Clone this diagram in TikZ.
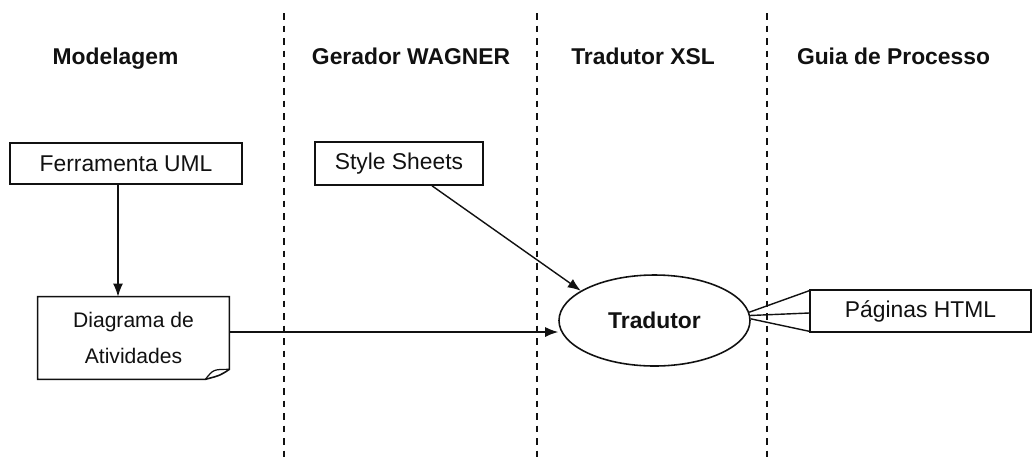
\documentclass[tikz,border=0pt]{standalone}
\usepackage{fontspec}
\setmainfont{Liberation Sans}
\usetikzlibrary{arrows.meta,calc,shapes.geometric}
\definecolor{ink}{HTML}{111111}

\tikzset{
  lane/.style={ink,line width=1pt,dash pattern=on 0.13cm off 0.12cm},
  head/.style={font=\fontsize{13}{15}\selectfont\bfseries,anchor=base},
  tool/.style={draw=ink,line width=0.9pt,fill=white,inner sep=0pt,
    font=\fontsize{13}{15}\selectfont},
  flow/.style={ink,line width=0.8pt,-{Latex[length=0.26cm,width=0.2cm]}},
  fan/.style={ink,line width=0.8pt}
}

\begin{document}
\begin{tikzpicture}[text=ink]
  \useasboundingbox (0,0) rectangle (20.66,-9.14);
  \fill[white] (0,0) rectangle (20.66,-9.14);

  \foreach \lx in {5.68,10.74,15.34}
    \draw[lane] (\lx,-0.26) -- (\lx,-9.14);

  \node[head] (hmod) at (2.31,-1.28) {Modelagem};
  \node[head] (hger) at (8.22,-1.28) {Gerador WAGNER};
  \node[head] (htra) at (12.86,-1.28) {Tradutor XSL};
  \node[head] (hgui) at (17.87,-1.28) {Guia de Processo};

  \node[tool,minimum width=4.64cm,minimum height=0.82cm] (uml)
    at (2.52,-3.27) {Ferramenta UML};
  \node[tool,minimum width=3.36cm,minimum height=0.86cm] (style)
    at (7.98,-3.27) {Style Sheets};
  \node[inner sep=0pt,minimum width=3.82cm,minimum height=1.64cm,
        align=center,font=\fontsize{12}{20}\selectfont] (diag)
    at (2.67,-6.76) {Diagrama de\\Atividades};
  \draw[ink,line width=0.9pt] (diag.north west) -- (diag.north east)
    -- ($(diag.south east)+(0,0.2)$)
    .. controls ($(diag.south east)+(-0.18,0.08)$) ..
       ($(diag.south east)+(-0.48,0)$)
    -- (diag.south west) -- cycle;
  \draw[ink,line width=0.7pt] ($(diag.south east)+(-0.48,0)$)
    .. controls ($(diag.south east)+(-0.32,0.2)$) ..
       ($(diag.south east)+(0,0.2)$);

  \node[ellipse,draw=ink,line width=0.9pt,fill=white,inner sep=0pt,
        minimum width=3.82cm,minimum height=1.82cm,
        font=\fontsize{13}{15}\selectfont\bfseries] (trad)
    at (13.09,-6.41) {Tradutor};
  \node[tool,minimum width=4.42cm,minimum height=0.84cm] (html)
    at (18.41,-6.22) {Páginas HTML};

  \coordinate (drop) at (2.36,0);
  \coordinate (feed) at (0,-6.64);
  \draw[flow] (drop |- uml.south) -- (drop |- diag.north);
  \draw[flow] (diag.east |- feed) -- (trad.west |- feed);
  \draw[flow] ($(style.south)+(0.66,0)$) -- (trad.158);

  \draw[fan] (trad.5) -- ($(html.north west)+(0,-0.03)$);
  \draw[fan] (trad.3) -- ($(html.west)+(0,-0.04)$);
  \draw[fan] (trad.1) -- ($(html.south west)+(0,0.03)$);
\end{tikzpicture}
\end{document}
